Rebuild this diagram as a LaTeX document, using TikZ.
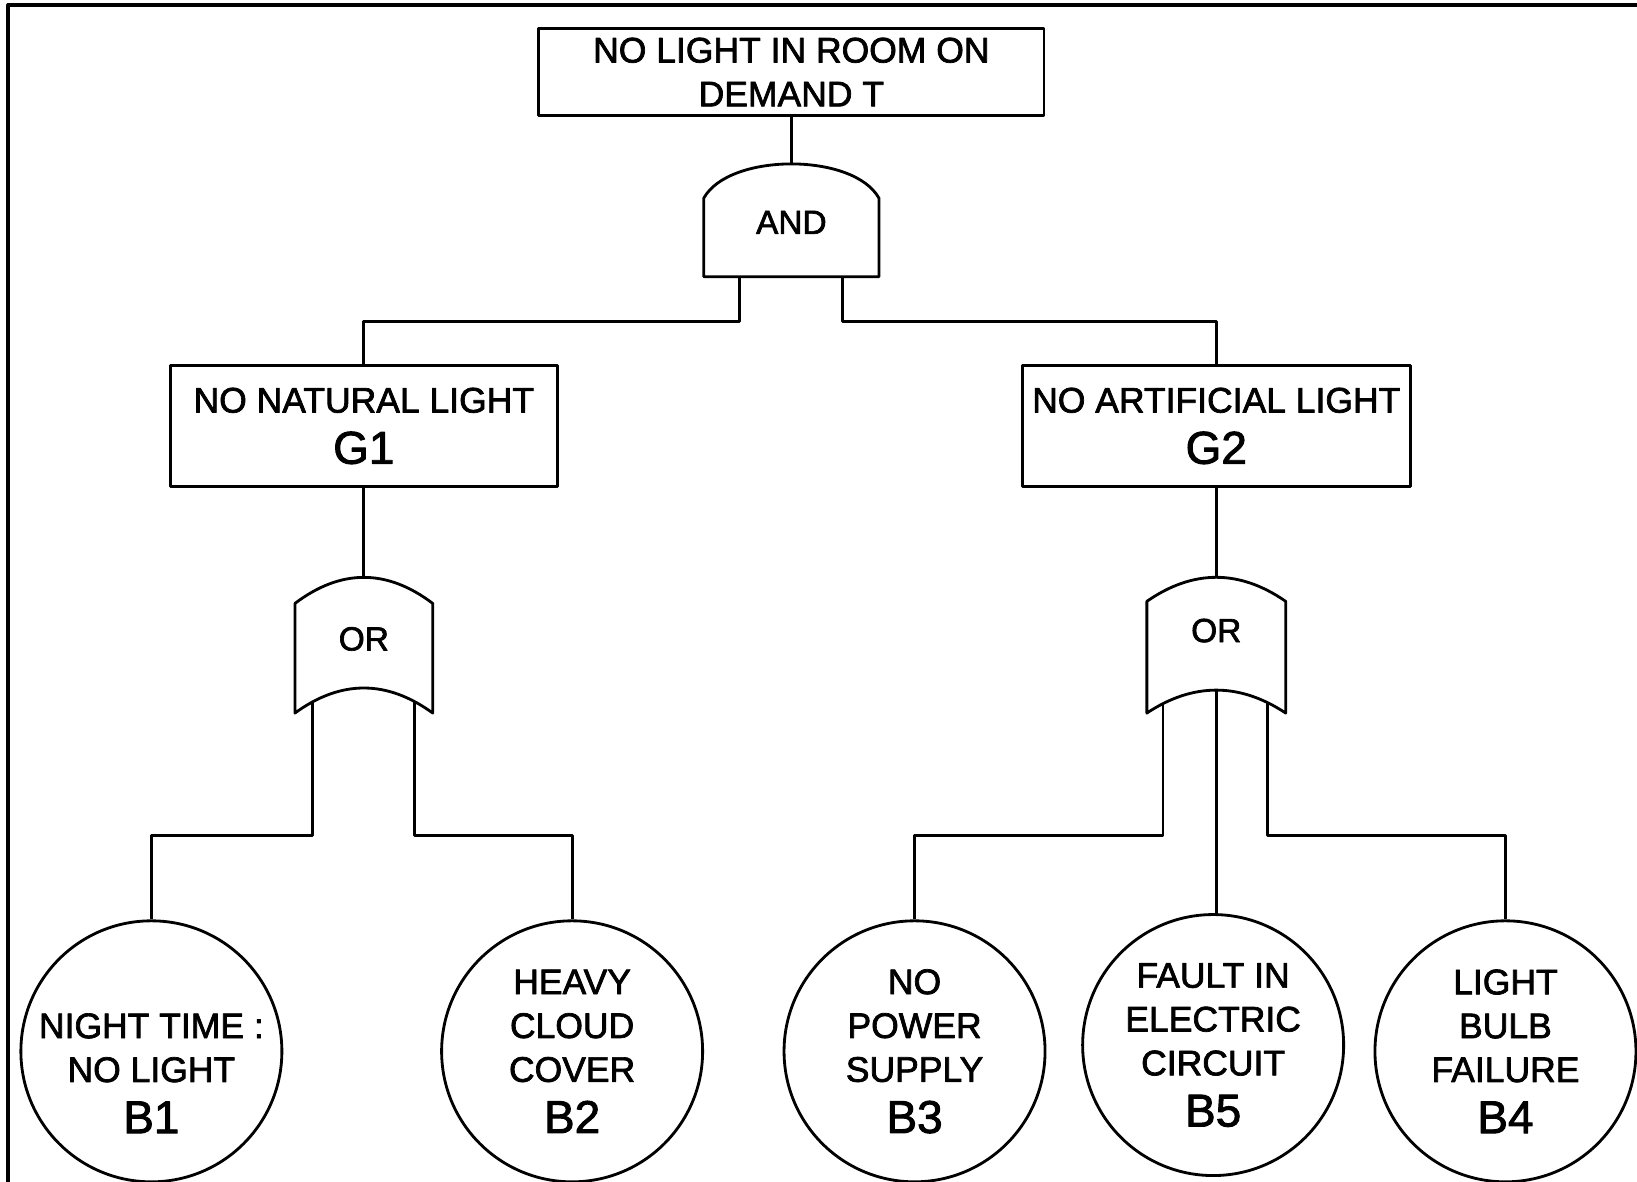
\documentclass[tikz,border=0pt]{standalone}
\usepackage{fontspec}
\setmainfont{Liberation Sans}[FakeBold=2]
\begin{document}
\begin{tikzpicture}[x=1pt,y=-1pt,line width=2.7pt,line join=round,
  box/.style={draw,rectangle,inner sep=0pt,align=center,font=\fontsize{34}{42}\selectfont},
  basic/.style={draw,circle,minimum size=250pt,inner sep=0pt,align=center,font=\fontsize{34}{42}\selectfont},
  ctext/.style={inner sep=0pt,align=center,font=\fontsize{34}{42}\selectfont},
  gtext/.style={inner sep=0pt,font=\fontsize{32}{38}\selectfont},
  gate/.style={draw,line width=2.7pt},
  conn/.style={draw,line width=2.7pt}]
\useasboundingbox (0,0) rectangle (1568,1132);
% frame
\draw[line width=4pt] (8,1132) -- (8,5) -- (1568,5);

% top event
\node[box,minimum width=484pt,minimum height=84pt] (top) at (758,69) {NO LIGHT IN ROOM ON\\DEMAND T};

% AND gate
\draw[gate] (674,265) -- (674,190) .. controls (686,168) and (722,157) .. (758,157)
  .. controls (794,157) and (830,168) .. (842,190) -- (842,265) -- cycle;
\node[gtext] (andg) at (758,213) {AND};
\coordinate (andin) at (758,157);
\coordinate (ando1) at (708,265);
\coordinate (ando2) at (807,265);

% intermediate events
\node[box,minimum width=371pt,minimum height=116pt] (g1) at (348.5,408) {NO NATURAL LIGHT\\[7pt]{\fontsize{44}{46}\selectfont G1}};
\node[box,minimum width=372pt,minimum height=116pt] (g2) at (1165,408) {NO ARTIFICIAL LIGHT\\[7pt]{\fontsize{44}{46}\selectfont G2}};

% OR gate 1
\draw[gate] (282.5,683) -- (282.5,578) .. controls (326.5,544.7) and (370.5,544.7) .. (414.5,578)
  -- (414.5,683) .. controls (370.5,651) and (326.5,651) .. (282.5,683) -- cycle;
\node[gtext] (org1) at (348.5,612) {OR};
\coordinate (or1in) at (348.5,553);
\coordinate (or1a) at (299,672.5);
\coordinate (or1b) at (397,672);

% OR gate 2
\draw[gate] (1098.5,683) -- (1098.5,576) .. controls (1142.8,545.3) and (1187.2,545.3) .. (1231.5,576)
  -- (1231.5,683) .. controls (1187.2,653.7) and (1142.8,653.7) .. (1098.5,683) -- cycle;
\node[gtext] (org2) at (1165,604) {OR};
\coordinate (or2in) at (1165,553);
\coordinate (or2a) at (1114,674);
\coordinate (or2m) at (1165,661);
\coordinate (or2c) at (1214,673);

% basic events
\node[basic] (b1) at (145,1007) {};
\node[ctext] (b1t) at (145,1028) {NIGHT TIME :\\NO LIGHT\\[7pt]{\fontsize{44}{46}\selectfont B1}};
\node[basic] (b2) at (548,1007) {HEAVY\\CLOUD\\COVER\\[7pt]{\fontsize{44}{46}\selectfont B2}};
\node[basic] (b3) at (876,1007) {NO\\POWER\\SUPPLY\\[7pt]{\fontsize{44}{46}\selectfont B3}};
\node[basic] (b5) at (1162,1001) {FAULT IN\\ELECTRIC\\CIRCUIT\\[7pt]{\fontsize{44}{46}\selectfont B5}};
\node[basic] (b4) at (1442,1007) {LIGHT\\BULB\\FAILURE\\[7pt]{\fontsize{44}{46}\selectfont B4}};

% connectors
\draw[conn] (top.south) -- (andin);
\draw[conn] (ando1) -- ++(0,43) -| (g1.north);
\draw[conn] (ando2) -- ++(0,43) -| (g2.north);
\draw[conn] (g1.south) -- (or1in);
\draw[conn] (g2.south) -- (or2in);
\draw[conn] (or1a) -- ++(0,127.5) -| (b1.north);
\draw[conn] (or1b) -- ++(0,128) -| (b2.north);
\draw[conn] (or2a) -- ++(0,126) -| (b3.north);
\draw[conn] (or2m) -- (or2m |- b5.north);
\draw[conn] (or2c) -- ++(0,127) -| (b4.north);
\end{tikzpicture}
\end{document}
